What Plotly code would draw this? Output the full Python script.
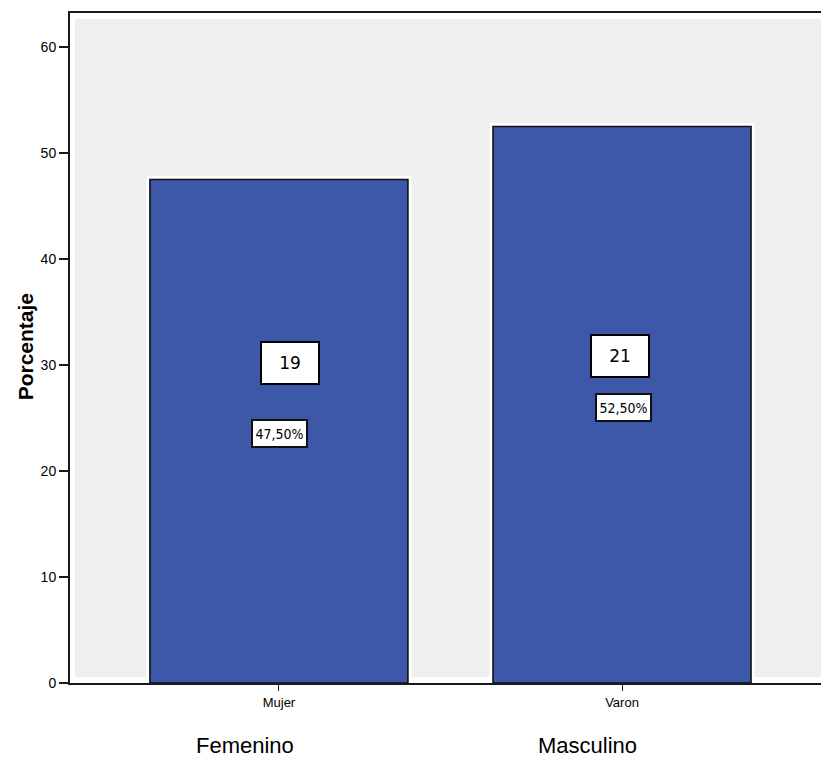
import plotly.graph_objects as go

# Data
categories = ["Mujer", "Varon"]
group_labels = ["Femenino", "Masculino"]
counts = [19, 21]
percentages = [47.5, 52.5]
y_ticks = [0, 10, 20, 30, 40, 50, 60]

BAR_BLUE = "#3D57A9"
PANEL_GREY = "#EFEFEF"
SANS = "Liberation Sans, Arial"

fig = go.Figure()

# white halo behind each bar
fig.add_trace(go.Bar(
    x=categories, y=percentages, width=0.752,
    marker=dict(color="white", line=dict(color="white", width=7)),
    hoverinfo="skip", showlegend=False, cliponaxis=False,
))
# the bars themselves
fig.add_trace(go.Bar(
    x=categories, y=percentages, width=0.752,
    marker=dict(color=BAR_BLUE, line=dict(color="#111111", width=1.6)),
    showlegend=False,
))

# grey panel inset from the axes
fig.add_shape(type="rect", xref="x domain", yref="y domain",
              x0=5 / 751, x1=1.0, y0=6 / 670, y1=1 - 6 / 670,
              fillcolor=PANEL_GREY, line=dict(width=0), layer="below")

# per-bar label placement (y position in axis units, horizontal pixel shift)
count_pos = [(30.2, 11), (30.8, -2)]
pct_pos = [(23.5, 1), (26.0, 1)]

for i, cat in enumerate(categories):
    cy, cx = count_pos[i]
    fig.add_annotation(
        x=cat, y=cy, xshift=cx, text=str(counts[i]), showarrow=False,
        font=dict(family="DejaVu Sans", size=17, color="black"),
        bgcolor="white", bordercolor="black", borderwidth=2, borderpad=0,
        width=56, height=40,
    )
    py, px = pct_pos[i]
    fig.add_annotation(
        x=cat, y=py, xshift=px,
        text=f"{percentages[i]:.2f}%".replace(".", ","), showarrow=False,
        font=dict(family="DejaVu Sans Condensed, DejaVu Sans", size=14, color="black"),
        bgcolor="white", bordercolor="#111111", borderwidth=2, borderpad=0,
        width=53, height=25,
    )

# group captions under the axis
for cat, lab, shift in zip(categories, group_labels, [-34, -35]):
    fig.add_annotation(
        x=cat, y=0, yref="paper", yshift=-62, xshift=shift, yanchor="middle",
        text=lab, showarrow=False,
        font=dict(family=SANS, size=22, color="black"),
    )

# y-axis title
fig.add_annotation(
    x=0, xref="paper", xanchor="center", xshift=-45, y=0.501, yref="paper",
    text="<b>Porcentaje</b>", textangle=-90, showarrow=False,
    font=dict(family=SANS, size=21, color="black"),
)

fig.update_layout(
    width=821, height=776,
    margin=dict(l=70, r=0, t=13, b=93),
    paper_bgcolor="white", plot_bgcolor="white",
    barmode="overlay",
    xaxis=dict(
        range=[-0.609, 1.58], showgrid=False, zeroline=False,
        showline=True, linecolor="#1a1a1a", linewidth=2, mirror=True,
        ticks="outside", ticklen=6, tickcolor="#1a1a1a", tickwidth=1,
        tickfont=dict(family=SANS, size=13, color="black"),
    ),
    yaxis=dict(
        range=[0, 63.2], tickvals=y_ticks, showgrid=False, zeroline=False,
        showline=True, linecolor="#1a1a1a", linewidth=2,
        ticks="outside", ticklen=9, tickcolor="#1a1a1a", tickwidth=1.5,
        tickfont=dict(family=SANS, size=14, color="black"),
    ),
)

fig.write_html("out.html")
